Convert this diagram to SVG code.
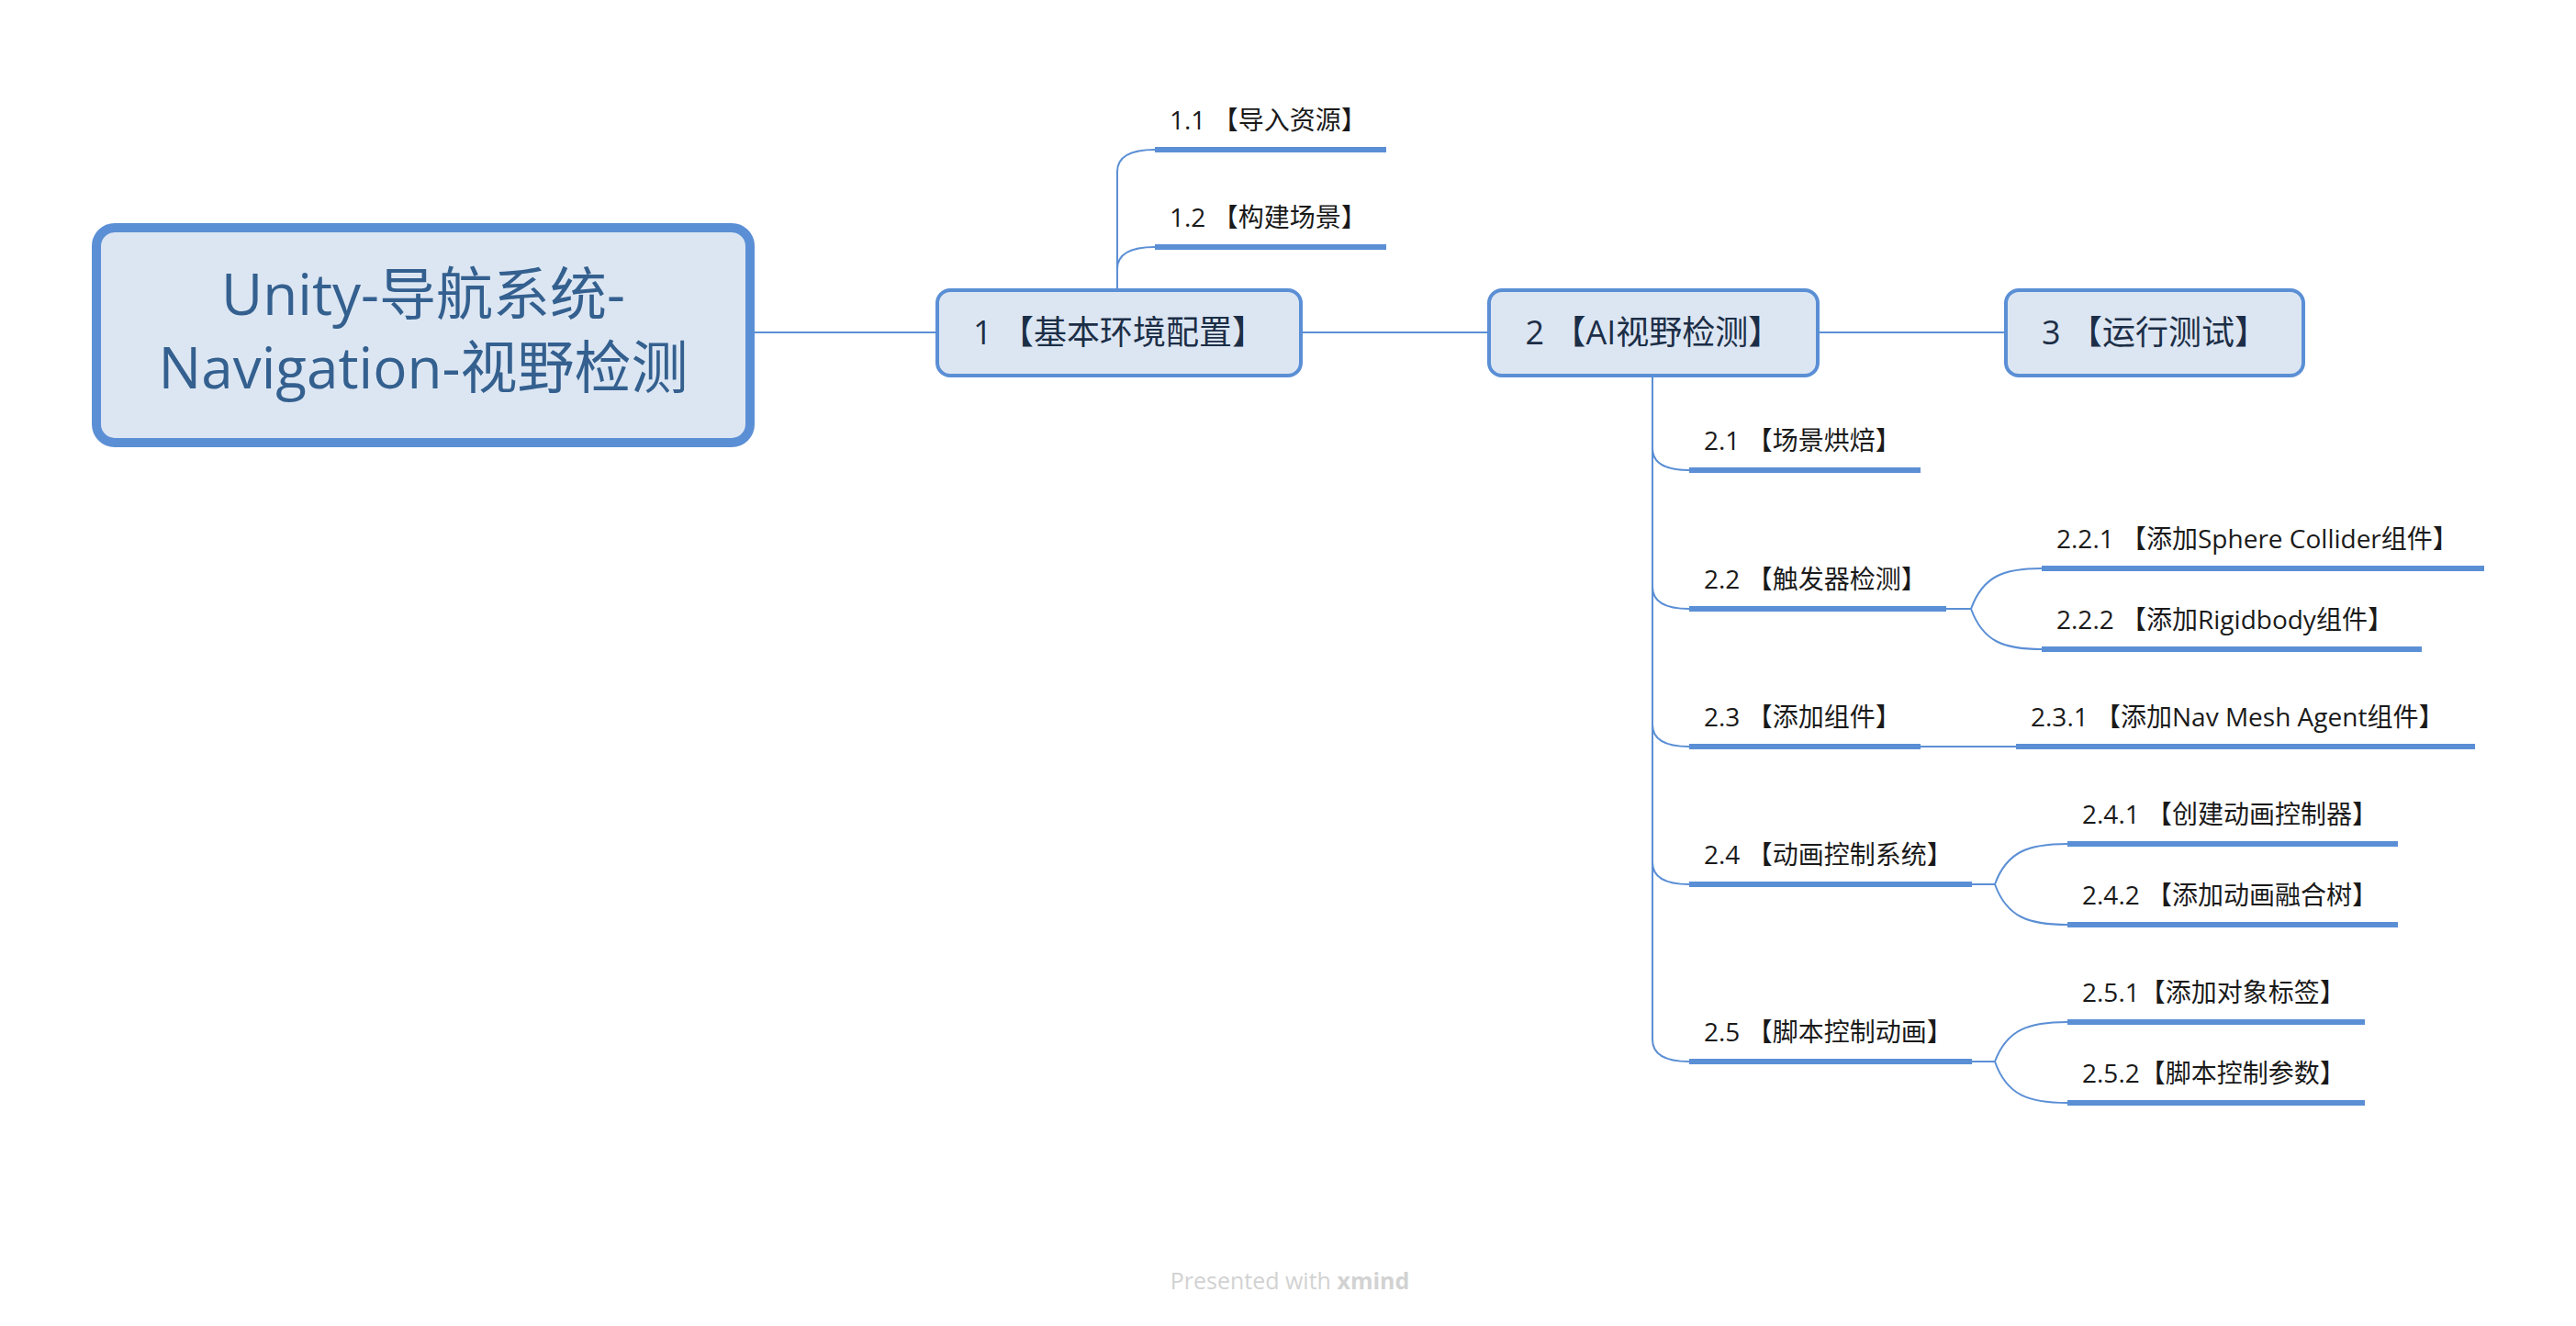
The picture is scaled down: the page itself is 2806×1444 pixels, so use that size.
<svg xmlns="http://www.w3.org/2000/svg" width="2806" height="1444" viewBox="0 0 2806 1444">
<style>
.box{fill:#dce6f2;stroke:#5b8fd5}
.ln{fill:none;stroke:#5b8fd5;stroke-width:2}
.ul{stroke:#5b8fd5;stroke-width:6}
.tr{font-family:"Open Sans","Noto Sans CJK SC",sans-serif;font-size:62px;fill:#34608f;text-anchor:middle}
.t1{font-family:"Open Sans","Noto Sans CJK SC",sans-serif;font-size:36px;fill:#1c2e47;text-anchor:middle}
.t2{font-family:"Open Sans","Noto Sans CJK SC",sans-serif;font-size:28px;fill:#1a1a1a}
.wm{font-family:"Open Sans","Noto Sans",sans-serif;font-size:25px;fill:#d2d2d2;text-anchor:middle}
</style>
<rect width="2806" height="1444" fill="#ffffff"/>
<g id="connectors">
<path class="ln" d="M822,362 H1019"/>
<path class="ln" d="M1419,362 H1620"/>
<path class="ln" d="M1982,362 H2183"/>
<path class="ln" d="M1217,315 V187 Q1217,163 1258,163"/>
<path class="ln" d="M1217,293 Q1217,269 1258,269"/>
<path class="ln" d="M1800,411 V1132 Q1800,1156 1840,1156"/>
<path class="ln" d="M1800,488 Q1800,512 1840,512"/>
<path class="ln" d="M1800,639 Q1800,663 1840,663"/>
<path class="ln" d="M1800,789 Q1800,813 1840,813"/>
<path class="ln" d="M1800,939 Q1800,963 1840,963"/>
<path class="ln" d="M2120,663 H2147 C2160,627 2183,619 2224,619 M2147,663 C2160,699 2183,707 2224,707"/>
<path class="ln" d="M2092,813 H2196"/>
<path class="ln" d="M2148,963 H2173 C2186,927 2210,919 2252,919 M2173,963 C2186,999 2210,1007 2252,1007"/>
<path class="ln" d="M2148,1156 H2173 C2186,1121 2210,1113 2252,1113 M2173,1156 C2186,1193 2210,1201 2252,1201"/>
</g>
<g id="root">
<rect class="box" x="105" y="248" width="712" height="234" rx="20" stroke-width="10"/>
<text class="tr" x="461" y="343">Unity-导航系统-</text>
<text class="tr" x="461" y="423">Navigation-视野检测</text>
</g>
<g id="n1">
<rect class="box" x="1021" y="316" width="396" height="93" rx="14" stroke-width="4"/>
<text class="t1" x="1219" y="375">1 【基本环境配置】</text>
</g>
<g id="n2">
<rect class="box" x="1622" y="316" width="358" height="93" rx="14" stroke-width="4"/>
<text class="t1" x="1801" y="375">2 【AI视野检测】</text>
</g>
<g id="n3">
<rect class="box" x="2185" y="316" width="324" height="93" rx="14" stroke-width="4"/>
<text class="t1" x="2347" y="375">3 【运行测试】</text>
</g>
<g id="n1_1"><line class="ul" x1="1258" y1="163" x2="1510" y2="163"/><text class="t2" x="1274" y="141">1.1 【导入资源】</text></g>
<g id="n1_2"><line class="ul" x1="1258" y1="269" x2="1510" y2="269"/><text class="t2" x="1274" y="247">1.2 【构建场景】</text></g>
<g id="n2_1"><line class="ul" x1="1840" y1="512" x2="2092" y2="512"/><text class="t2" x="1856" y="490">2.1 【场景烘焙】</text></g>
<g id="n2_2"><line class="ul" x1="1840" y1="663" x2="2120" y2="663"/><text class="t2" x="1856" y="641">2.2 【触发器检测】</text></g>
<g id="n2_2_1"><line class="ul" x1="2224" y1="619" x2="2706" y2="619"/><text class="t2" x="2240" y="597">2.2.1 【添加Sphere Collider组件】</text></g>
<g id="n2_2_2"><line class="ul" x1="2224" y1="707" x2="2638" y2="707"/><text class="t2" x="2240" y="685">2.2.2 【添加Rigidbody组件】</text></g>
<g id="n2_3"><line class="ul" x1="1840" y1="813" x2="2092" y2="813"/><text class="t2" x="1856" y="791">2.3 【添加组件】</text></g>
<g id="n2_3_1"><line class="ul" x1="2196" y1="813" x2="2696" y2="813"/><text class="t2" x="2212" y="791">2.3.1 【添加Nav Mesh Agent组件】</text></g>
<g id="n2_4"><line class="ul" x1="1840" y1="963" x2="2148" y2="963"/><text class="t2" x="1856" y="941">2.4 【动画控制系统】</text></g>
<g id="n2_4_1"><line class="ul" x1="2252" y1="919" x2="2612" y2="919"/><text class="t2" x="2268" y="897">2.4.1 【创建动画控制器】</text></g>
<g id="n2_4_2"><line class="ul" x1="2252" y1="1007" x2="2612" y2="1007"/><text class="t2" x="2268" y="985">2.4.2 【添加动画融合树】</text></g>
<g id="n2_5"><line class="ul" x1="1840" y1="1156" x2="2148" y2="1156"/><text class="t2" x="1856" y="1134">2.5 【脚本控制动画】</text></g>
<g id="n2_5_1"><line class="ul" x1="2252" y1="1113" x2="2576" y2="1113"/><text class="t2" x="2268" y="1091">2.5.1【添加对象标签】</text></g>
<g id="n2_5_2"><line class="ul" x1="2252" y1="1201" x2="2576" y2="1201"/><text class="t2" x="2268" y="1179">2.5.2【脚本控制参数】</text></g>
<text class="wm" x="1405" y="1404">Presented with <tspan font-weight="bold">xmind</tspan></text>
</svg>
